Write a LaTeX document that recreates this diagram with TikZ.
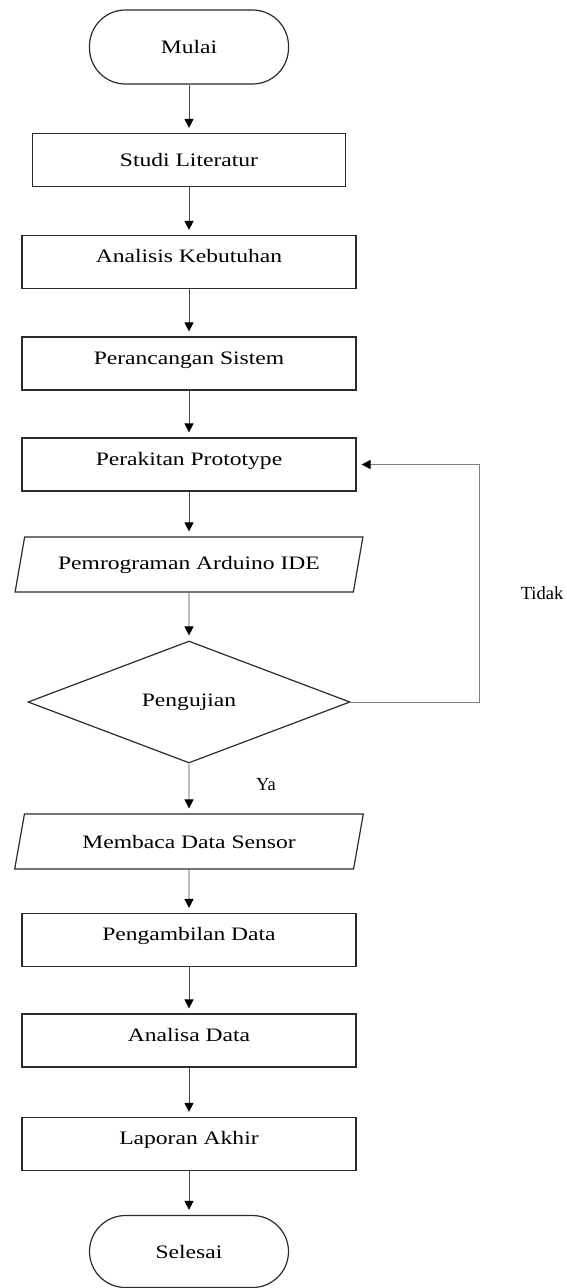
\documentclass[tikz,border=0pt]{standalone}
\usepackage{fontspec}
\setmainfont{Liberation Serif}[FakeStretch=1.24]
\newfontfamily\labelfont{Liberation Serif}
\usepackage{tikz}
\usetikzlibrary{arrows.meta,shapes.geometric}
\definecolor{boxline}{HTML}{2B2B2B}
\definecolor{arrline}{HTML}{4A4A4A}

\begin{document}
\begin{tikzpicture}[x=1pt, y=-1pt,
      term/.style={rectangle, draw=boxline, line width=1.2pt, rounded corners=36pt,
        minimum width=199pt, minimum height=74pt, font=\fontsize{19}{22}\selectfont},
      proc/.style={rectangle, draw=boxline, line width=1.2pt,
        minimum width=334pt, minimum height=53pt, text height=13pt, text depth=12pt,
        font=\fontsize{19}{22}\selectfont},
      io/.style={trapezium, trapezium left angle=72, trapezium right angle=108,
        trapezium stretches=true, draw=boxline, line width=1.2pt,
        minimum width=349pt, minimum height=55pt, font=\fontsize{19}{22}\selectfont},
      dec/.style={diamond, draw=boxline, line width=1.2pt, inner sep=0pt,
        minimum width=322pt, minimum height=122pt, font=\fontsize{19}{22}\selectfont},
      arr/.style={-{Triangle[length=9pt,width=9pt,color=black]}, line width=0.9pt,
        color=arrline, shorten >=5pt},
      lbl/.style={font=\labelfont\fontsize{18.5}{22}\selectfont}
    ]
      \useasboundingbox (0,0) rectangle (566,1288);
      \node[term] (mulai) at (189,47) {Mulai};
      \node[proc, minimum width=313pt, text depth=1pt] (studi) at (189,160) {Studi Literatur};
      \node[proc] (analisis) at (189,262) {Analisis Kebutuhan};
      \node[proc] (rancang) at (189,363.5) {Perancangan Sistem};
      \node[proc] (rakit) at (189,464.5) {Perakitan Prototype};
      \node[io] (program) at (189,564.5) {Pemrograman Arduino IDE};
      \node[dec] (uji) at (189,702) {Pengujian};
      \node[io] (sensor) at (189,841.5) {Membaca Data Sensor};
      \node[proc] (ambil) at (189,940) {Pengambilan Data};
      \node[proc] (analisa) at (189,1040.5) {Analisa Data};
      \node[proc] (laporan) at (189,1144) {Laporan Akhir};
      \node[term, minimum height=72pt] (selesai) at (189,1251.5) {Selesai};
      \node[lbl] (tidak) at (542,593) {Tidak};
      \node[lbl] (ya) at (266,785) {Ya};
      \coordinate (balik) at (479,702);
      \draw[arr] (mulai)--(studi); \draw[arr] (studi)--(analisis); \draw[arr] (analisis)--(rancang);
      \draw[arr] (rancang)--(rakit); \draw[arr] (rakit)--(program); \draw[arr] (program)--(uji);
      \draw[arr] (uji)--(sensor); \draw[arr] (sensor)--(ambil); \draw[arr] (ambil)--(analisa);
      \draw[arr] (analisa)--(laporan); \draw[arr] (laporan)--(selesai);
      \draw[arr, color=gray] (uji.east) -- (balik) |- (rakit.east);
    \end{tikzpicture}
\end{document}
